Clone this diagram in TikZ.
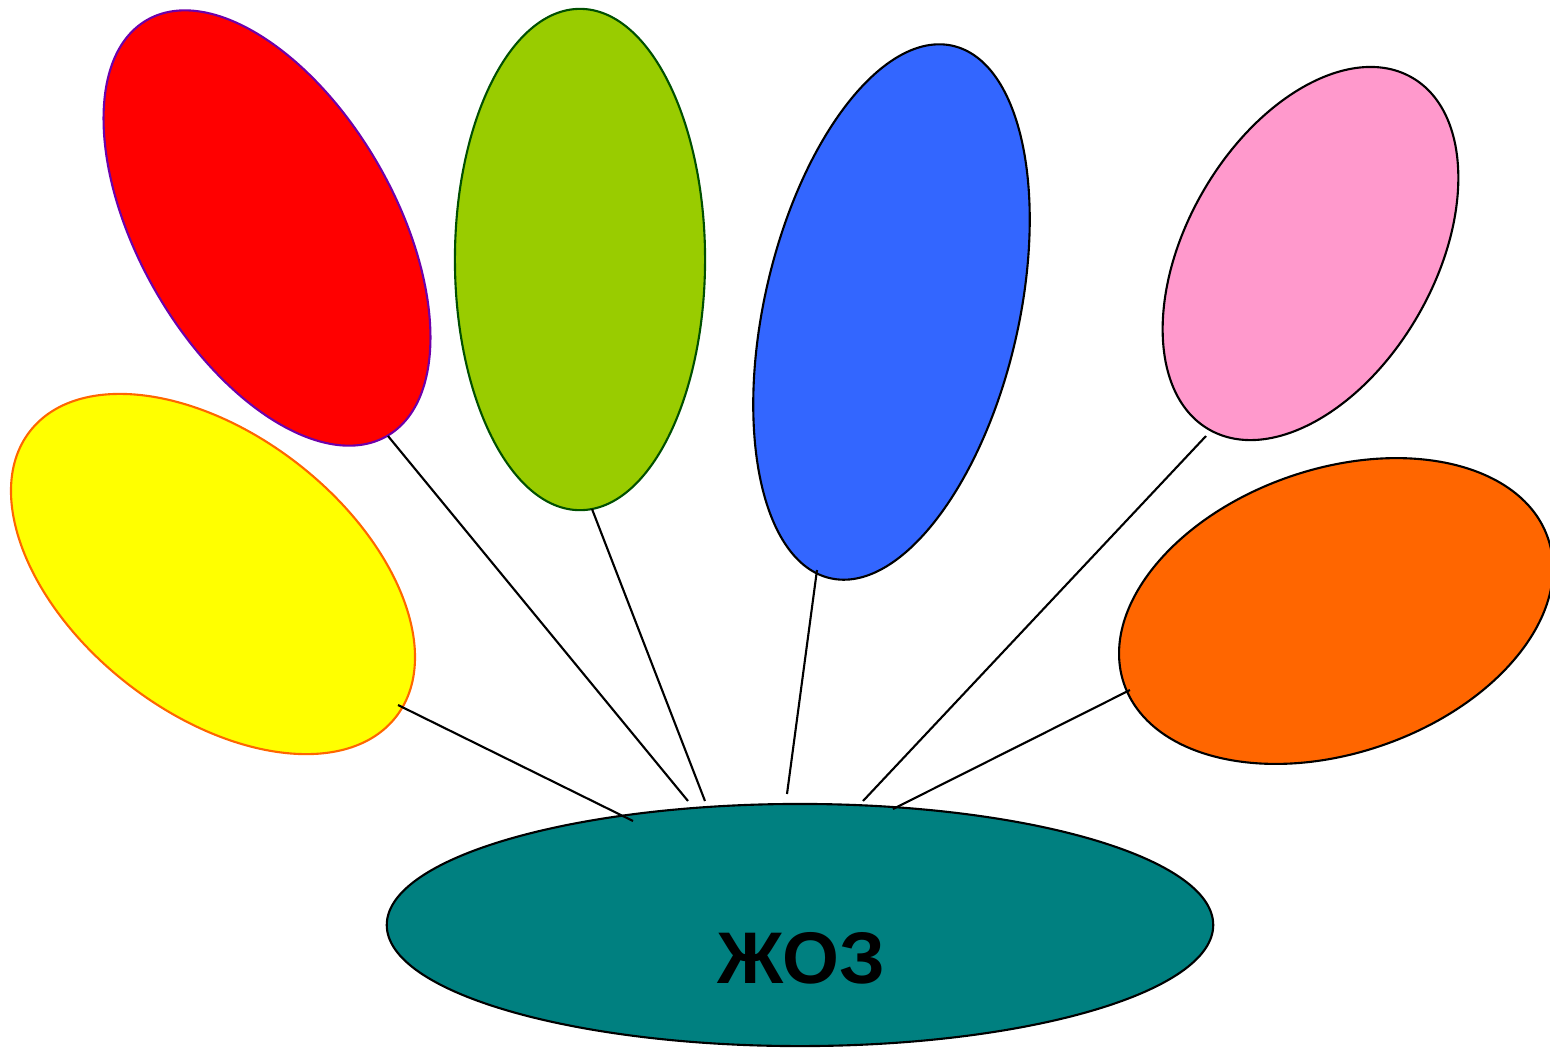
\documentclass[tikz,border=0pt]{standalone}
\usepackage{fontspec}
\setmainfont{Liberation Sans}
\usetikzlibrary{shapes.geometric}
\definecolor{cteal}{RGB}{0,128,128}
\definecolor{cyel}{RGB}{255,255,0}
\definecolor{cyelline}{RGB}{255,102,0}
\definecolor{cred}{RGB}{255,0,0}
\definecolor{credline}{RGB}{110,0,170}
\definecolor{cgreen}{RGB}{153,204,0}
\definecolor{cgreenline}{RGB}{0,80,0}
\definecolor{cblue}{RGB}{51,102,255}
\definecolor{cpink}{RGB}{255,153,204}
\definecolor{corange}{RGB}{255,102,0}
\begin{document}
\begin{tikzpicture}[x=0.01cm,y=-0.01cm,
  blob/.style={ellipse, inner sep=0pt, outer sep=0pt, line width=0.6pt},
  link/.style={draw=black, line width=0.6pt}]
\useasboundingbox (0,0) rectangle (1550,1047);
% balloons
\node[blob, fill=cyel, draw=cyelline, minimum width=4.64cm, minimum height=2.78cm, rotate=-38] (yellow) at (213,574) {};
\node[blob, fill=cred, draw=credline, minimum width=4.80cm, minimum height=2.56cm, rotate=-60] (red) at (267,228) {};
\node[blob, fill=cgreen, draw=cgreenline, minimum width=2.50cm, minimum height=5.01cm] (green) at (580,259.5) {};
\node[blob, fill=cblue, draw=black, minimum width=5.46cm, minimum height=2.54cm, rotate=77] (blue) at (891.5,312) {};
\node[blob, fill=cpink, draw=black, minimum width=4.06cm, minimum height=2.48cm, rotate=60] (pink) at (1310.5,253.5) {};
\node[blob, fill=corange, draw=black, minimum width=4.48cm, minimum height=2.84cm, rotate=19] (orange) at (1336,611) {};
% base
\node[blob, fill=cteal, draw=black, minimum width=8.26cm, minimum height=2.42cm] (base) at (800,925) {};
\node[font=\fontsize{20.8}{24}\selectfont\bfseries, inner sep=0pt] (label) at (801,958) {ЖОЗ};
% connector ends
\coordinate (y1) at (398,705); \coordinate (y2) at (633,821);
\coordinate (r1) at (388,436); \coordinate (r2) at (688,801);
\coordinate (g1) at (592,509); \coordinate (g2) at (705,801);
\coordinate (b1) at (817,570); \coordinate (b2) at (787,794);
\coordinate (p1) at (1206,436); \coordinate (p2) at (863,801);
\coordinate (o1) at (1130,690); \coordinate (o2) at (893,809);
\draw[link] (y1) -- (y2);
\draw[link] (r1) -- (r2);
\draw[link] (g1) -- (g2);
\draw[link] (b1) -- (b2);
\draw[link] (p1) -- (p2);
\draw[link] (o1) -- (o2);
\end{tikzpicture}
\end{document}
